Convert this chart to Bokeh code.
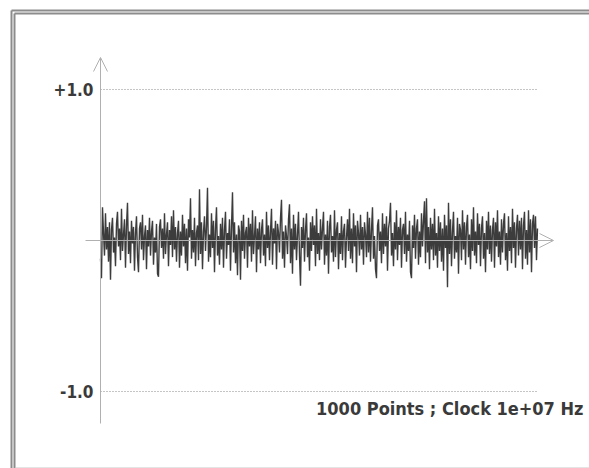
from bokeh.plotting import figure
from bokeh.models import Range1d, Arrow, OpenHead, Label
from bokeh.embed import file_html
from bokeh.resources import INLINE

# ---- data ----
n_points = 1000
clock_hz = 1e7
tick_values = [1.0, -1.0]
tick_labels = ["+1.0", "-1.0"]
signal = [
    -0.12, -0.25, 0.22, 0.05, -0.10, 0.18, -0.06, 0.09, -0.14, 0.12, -0.26, 0.07, 0.15, -0.08, 0.02, -0.17, 0.11, 0.19, -0.04, 0.08,
    -0.13, 0.21, -0.07, 0.04, 0.14, -0.18, 0.10, 0.25, -0.09, 0.06, -0.15, 0.13, -0.02, 0.09, -0.20, 0.05, 0.16, -0.11, -0.21, 0.08,
    0.12, -0.06, 0.17, -0.13, 0.03, 0.10, -0.19, 0.07, -0.04, 0.15, -0.10, 0.06, 0.13, -0.16, 0.02, -0.08, 0.11, -0.22, -0.24, 0.09,
    0.14, -0.05, 0.08, -0.12, 0.18, -0.09, 0.04, 0.12, -0.17, 0.07, -0.03, 0.16, -0.11, 0.20, -0.06, 0.09, -0.14, 0.05, 0.13, -0.18,
    0.06, -0.10, 0.17, -0.04, 0.11, -0.15, 0.08, -0.20, 0.14, 0.02, 0.28, -0.12, 0.07, -0.08, 0.15, -0.17, 0.05, 0.10, -0.13, 0.34,
    -0.09, 0.12, -0.19, 0.06, 0.16, -0.07, 0.09, 0.35, -0.14, 0.04, -0.11, 0.18, -0.05, 0.13, -0.21, 0.08, 0.22, -0.10, 0.03, -0.16,
    0.11, -0.06, 0.15, -0.18, 0.07, 0.19, -0.12, 0.05, -0.03, 0.14, -0.20, 0.09, 0.32, -0.08, 0.12, -0.15, 0.04, -0.23, 0.10, 0.06,
    -0.26, 0.13, -0.07, 0.17, -0.12, 0.05, 0.09, -0.18, 0.15, -0.04, 0.11, -0.14, 0.20, -0.09, 0.03, 0.16, -0.21, 0.08, -0.06, 0.12,
    -0.15, 0.07, 0.14, -0.10, 0.04, -0.17, 0.19, -0.05, 0.10, -0.13, 0.06, 0.21, -0.16, 0.08, -0.02, 0.13, -0.19, 0.11, 0.05, -0.08,
    0.15, 0.27, -0.12, 0.06, -0.18, 0.10, 0.03, -0.09, 0.14, 0.24, -0.15, 0.08, -0.22, 0.17, -0.06, 0.11, -0.13, 0.04, 0.19, -0.10,
    -0.30, 0.09, -0.05, 0.15, -0.14, 0.07, 0.18, -0.11, 0.02, -0.20, 0.12, -0.07, 0.16, -0.03, 0.10, -0.17, 0.21, -0.09, 0.05, -0.13,
    0.14, -0.06, 0.08, 0.19, -0.16, 0.04, -0.10, 0.13, -0.22, 0.09, 0.17, -0.08, 0.03, -0.14, 0.20, -0.11, 0.07, 0.12, -0.19, 0.05,
    -0.09, 0.16, -0.13, 0.06, 0.11, -0.18, 0.02, 0.14, -0.07, 0.21, -0.12, 0.08, -0.15, 0.18, -0.04, 0.10, -0.21, 0.13, 0.05, -0.10,
    0.17, -0.06, 0.09, -0.16, 0.12, 0.04, -0.11, 0.19, -0.08, 0.15, -0.14, 0.07, 0.22, -0.12, 0.03, -0.19, -0.25, 0.10, 0.14, -0.07,
    0.06, -0.15, 0.18, -0.09, 0.11, -0.04, 0.16, -0.20, 0.08, 0.13, 0.25, -0.10, 0.05, -0.17, 0.12, -0.06, 0.20, -0.13, 0.09, -0.03,
    0.15, -0.18, 0.07, 0.11, -0.09, 0.19, -0.14, 0.04, -0.07, 0.13, -0.21, -0.25, 0.10, -0.05, 0.17, -0.12, 0.08, 0.14, -0.16, 0.06,
    -0.11, 0.18, -0.04, 0.13, 0.26, -0.15, 0.28, -0.08, 0.09, -0.19, 0.15, -0.06, 0.11, -0.13, 0.21, -0.10, 0.05, -0.18, 0.16, -0.07,
    0.12, -0.14, 0.08, -0.20, 0.17, -0.05, 0.10, -0.31, 0.25, -0.09, 0.14, -0.17, 0.06, 0.19, -0.12, 0.03, -0.08, 0.15, -0.22, 0.11,
    0.07, -0.13, 0.20, -0.06, 0.12, -0.16, 0.09, 0.17, -0.11, 0.04, -0.19, 0.14, -0.07, 0.22, -0.10, 0.06, -0.15, 0.18, -0.03, 0.11,
    -0.17, 0.08, 0.16, -0.12, 0.05, -0.21, 0.13, -0.06, 0.19, -0.09, 0.10, -0.14, 0.07, 0.15, -0.18, 0.12, -0.04, 0.20, -0.11, 0.06,
    -0.16, 0.14, -0.08, 0.11, 0.18, -0.13, 0.05, -0.20, 0.16, -0.07, 0.09, -0.15, 0.21, -0.05, 0.12, -0.18, 0.08, 0.17, -0.10, 0.13,
    -0.06, 0.15, -0.19, 0.10, 0.19, -0.12, 0.07, -0.16, 0.20, -0.08, 0.14, -0.21, 0.11, 0.17, -0.05, 0.16, -0.13, 0.08,
]

# ---- layout (pixels, page coordinates) ----
W, H = 589, 468
X0_PX, X1_PX = 100, 537       # first / last sample
ZERO_PX, UNIT_PX = 240, 151   # y=0 row and pixels per unit

sx = (X1_PX - X0_PX) / (n_points - 1)
x_start = -X0_PX / sx
x_end = x_start + W / sx
y_end = ZERO_PX / UNIT_PX
y_start = y_end - H / UNIT_PX


def px2x(px):
    return px / sx + x_start


def px2y(py):
    return y_end - py / UNIT_PX


p = figure(width=W, height=H, output_backend="svg", toolbar_location=None,
           x_range=Range1d(x_start, x_end), y_range=Range1d(y_start, y_end),
           min_border=0, x_axis_location=None, y_axis_location=None,
           background_fill_color="white", border_fill_color="white")
p.grid.visible = False
p.outline_line_color = None

# frame (double grey border, left and top; light bottom edge)
FR = "#8c8c8c"
for lx, ty in ((11, 10), (14, 13)):
    p.segment(x0=px2x(lx), y0=px2y(ty), x1=px2x(lx), y1=px2y(470),
              line_color=FR, line_width=2)
    p.segment(x0=px2x(lx), y0=px2y(ty), x1=px2x(600), y1=px2y(ty),
              line_color=FR, line_width=2)
p.segment(x0=px2x(15), y0=px2y(467.5), x1=px2x(600), y1=px2y(467.5),
          line_color="#c8c8c8", line_width=1)

FONT = "DejaVu Sans Condensed"
TXT = "#3a3a3a"
AX = "#b0b0b0"

# dotted reference lines and tick labels
for v, lab in zip(tick_values, tick_labels):
    p.segment(x0=0, y0=v, x1=n_points - 1, y1=v, line_color="#8a8a8a",
              line_width=1, line_dash="1 2")
    p.add_layout(Label(x=px2x(93), y=v, text=lab, text_align="right",
                       text_baseline="middle", text_font=FONT,
                       text_font_style="bold", text_font_size="17px",
                       text_color=TXT))

# axes with open arrow heads
p.add_layout(Arrow(end=OpenHead(size=14, line_color=AX, line_width=1),
                   x_start=0, y_start=px2y(423), x_end=0, y_end=px2y(57),
                   line_color=AX, line_width=1))
p.add_layout(Arrow(end=OpenHead(size=14, line_color=AX, line_width=1),
                   x_start=px2x(85), y_start=0, x_end=px2x(553), y_end=0,
                   line_color=AX, line_width=1))

# signal
n = len(signal)
xs = [i * (n_points - 1) / (n - 1) for i in range(n)]
p.line(xs, signal, line_color="#3c3c3c", line_width=1.4)

# caption
caption = f"{n_points} Points ; Clock {clock_hz:g} Hz"
p.add_layout(Label(x=px2x(583), y=px2y(408), text=caption, text_align="right",
                   text_baseline="alphabetic", text_font=FONT,
                   text_font_style="bold", text_font_size="18px",
                   text_color=TXT))

open("out.html", "w").write(file_html(p, INLINE))
